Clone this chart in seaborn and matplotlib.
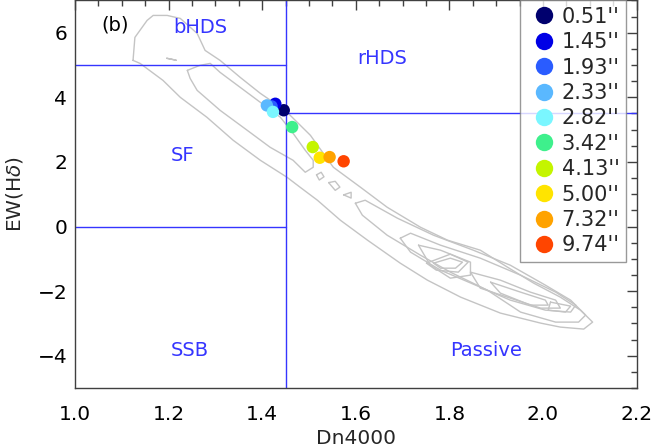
import numpy as np
import pandas as pd
import matplotlib
matplotlib.use("Agg")
import matplotlib.pyplot as plt
import seaborn as sns
from matplotlib.ticker import MultipleLocator

# ---------------- data ----------------
radius_labels = ["0.51''", "1.45''", "1.93''", "2.33''", "2.82''",
                 "3.42''", "4.13''", "5.00''", "7.32''", "9.74''"]
dn4000 = [1.446, 1.428, 1.420, 1.410, 1.423, 1.464, 1.508, 1.523, 1.544, 1.574]
ew_hd = [3.60, 3.80, 3.72, 3.75, 3.55, 3.08, 2.46, 2.13, 2.15, 2.02]
point_colors = ["#00006e", "#0000e6", "#2a5cff", "#5ab8ff", "#7af6ff",
                "#3ef08c", "#c4f500", "#ffe400", "#ffa300", "#ff4500"]

# contour outlines (Dn4000, EW)
cont_outer_x = [1.124, 1.128, 1.154, 1.167, 1.197, 1.225, 1.261, 1.278, 1.310, 1.353, 1.396,
                1.449, 1.503, 1.552, 1.610, 1.667, 1.738, 1.796, 1.866, 1.924, 1.980, 2.037,
                2.080, 2.106, 2.087, 2.037, 1.995, 1.909, 1.824, 1.753, 1.695, 1.625, 1.567,
                1.518, 1.481, 1.453, 1.396, 1.338, 1.282, 1.225, 1.188, 1.139, 1.124]
cont_outer_y = [5.144, 5.856, 6.381, 6.536, 6.536, 6.443, 5.979, 5.453, 5.144, 4.618, 4.123,
                3.598, 2.824, 1.835, 1.216, 0.597, -0.021, -0.423, -0.733, -1.258, -1.753, -2.187,
                -2.589, -2.960, -3.176, -3.114, -2.991, -2.681, -2.187, -1.661, -1.135, -0.423, 0.195,
                0.814, 1.216, 1.525, 2.051, 2.670, 3.381, 4.000, 4.525, 5.051, 5.144]

cont_a_x = [1.240, 1.267, 1.289, 1.310, 1.353, 1.396, 1.439, 1.466, 1.492, 1.509, 1.509,
            1.492, 1.466, 1.417, 1.368, 1.310, 1.261, 1.246, 1.240]
cont_a_y = [4.835, 4.990, 5.051, 4.773, 4.309, 3.845, 3.381, 2.886, 2.360, 2.051, 1.835,
            1.680, 2.051, 2.453, 2.979, 3.598, 4.216, 4.587, 4.835]

cont_dash_x = [1.196, 1.216, 1.196]
cont_dash_y = [5.21, 5.15, 5.21]

blob1_x = [1.516, 1.526, 1.532, 1.522, 1.516]
blob1_y = [1.60, 1.68, 1.54, 1.44, 1.60]
blob2_x = [1.542, 1.556, 1.566, 1.556, 1.542]
blob2_y = [1.36, 1.40, 1.22, 1.12, 1.36]
blob3_x = [1.574, 1.590, 1.590, 1.574]
blob3_y = [0.98, 1.06, 0.88, 0.98]

cont_b_x = [1.599, 1.620, 1.689, 1.766, 1.851, 1.930, 2.005, 2.059, 2.091, 2.076, 2.027,
            1.952, 1.881, 1.802, 1.738, 1.667, 1.614, 1.599]
cont_b_y = [0.721, 0.814, 0.257, -0.269, -0.733, -1.197, -1.815, -2.279, -2.743, -2.960, -2.960,
            -2.650, -1.970, -1.413, -0.887, -0.269, 0.350, 0.721]

cont_c_x = [1.695, 1.717, 1.781, 1.866, 1.952, 2.027, 2.070, 2.059, 2.005, 1.930, 1.856, 1.781, 1.717, 1.695]
cont_c_y = [-0.362, -0.207, -0.578, -0.980, -1.506, -2.032, -2.434, -2.650, -2.589, -2.279, -1.815, -1.351, -0.794, -0.362]

cont_d_x = [1.734, 1.781, 1.845, 1.845, 1.802, 1.759, 1.734]
cont_d_y = [-0.578, -0.733, -1.104, -1.506, -1.599, -1.197, -0.578]

cont_d2_x = [1.751, 1.802, 1.840, 1.819, 1.772, 1.751]
cont_d2_y = [-1.135, -0.856, -1.104, -1.413, -1.351, -1.135]

cont_d3_x = [1.766, 1.802, 1.828, 1.813, 1.781, 1.766]
cont_d3_y = [-1.135, -0.980, -1.104, -1.290, -1.290, -1.135]

cont_e_x = [1.845, 1.909, 1.973, 2.027, 2.037, 1.995, 1.930, 1.866, 1.845]
cont_e_y = [-1.413, -1.661, -2.032, -2.279, -2.527, -2.527, -2.217, -1.908, -1.413]

cont_f_x = [1.888, 1.952, 2.005, 2.011, 1.973, 1.909, 1.888]
cont_f_y = [-1.723, -2.032, -2.279, -2.434, -2.434, -2.063, -1.723]

cont_g_x = [2.016, 2.059, 2.048, 2.011, 2.016]
cont_g_y = [-2.341, -2.465, -2.650, -2.589, -2.341]

contours = [(cont_outer_x, cont_outer_y), (cont_a_x, cont_a_y), (cont_dash_x, cont_dash_y),
            (blob1_x, blob1_y), (blob2_x, blob2_y), (blob3_x, blob3_y),
            (cont_b_x, cont_b_y), (cont_c_x, cont_c_y), (cont_d_x, cont_d_y),
            (cont_d2_x, cont_d2_y), (cont_d3_x, cont_d3_y), (cont_e_x, cont_e_y),
            (cont_f_x, cont_f_y), (cont_g_x, cont_g_y)]

region_names = ["bHDS", "rHDS", "SF", "SSB", "Passive"]
region_x = [1.267, 1.657, 1.229, 1.246, 1.879]
region_y = [6.16, 5.20, 2.20, -3.83, -3.83]

# ---------------- plot ----------------
sns.set_style("white")
plt.rcParams['font.family'] = ['DejaVu Sans']
plt.rcParams['mathtext.fontset'] = 'dejavusans'

fig = plt.figure(figsize=(6.51, 4.47), dpi=100)
ax = fig.add_axes([0.1152, 0.132, 0.8627, 0.867])

for cx, cy in contours:
    ax.plot(cx, cy, color="#c4c4c4", lw=1.0, zorder=1)

blue = "#3535ff"
ax.plot([1.0, 1.45], [5, 5], color=blue, lw=1.0, zorder=2)
ax.plot([1.0, 1.45], [0, 0], color=blue, lw=1.0, zorder=2)
ax.plot([1.45, 2.2], [3.5, 3.5], color=blue, lw=1.0, zorder=2)
ax.plot([1.45, 1.45], [-5, 7], color=blue, lw=1.0, zorder=2)

df = pd.DataFrame({"Dn4000": dn4000, "EW": ew_hd, "r": radius_labels})
sns.scatterplot(data=df, x="Dn4000", y="EW", hue="r", hue_order=radius_labels,
                palette=dict(zip(radius_labels, point_colors)), s=80,
                edgecolor="none", linewidth=0, ax=ax, zorder=3)

for name, tx, ty in zip(region_names, region_x, region_y):
    ax.text(tx, ty, name, color=blue, fontsize=14, ha="center", va="center")
ax.text(1.086, 6.23, "(b)", color="black", fontsize=14, ha="center", va="center")

handles, labels = ax.get_legend_handles_labels()
leg = ax.legend(handles, labels, loc="upper right", bbox_to_anchor=(0.981, 1.0),
                markerscale=1.4, fontsize=15, frameon=True, fancybox=False,
                edgecolor="#808080", handletextpad=0.0, labelspacing=0.26,
                borderpad=0.3, handlelength=1.7, borderaxespad=0.0)
leg.get_frame().set_linewidth(1.0)
leg.set_zorder(5)

ax.set_xlim(1.0, 2.2)
ax.set_ylim(-5, 7)
ax.xaxis.set_major_locator(MultipleLocator(0.2))
ax.xaxis.set_minor_locator(MultipleLocator(0.05))
ax.yaxis.set_major_locator(MultipleLocator(2))
ax.yaxis.set_minor_locator(MultipleLocator(0.5))
ax.xaxis.set_major_formatter(matplotlib.ticker.FormatStrFormatter('%.1f'))
ax.tick_params(which="both", direction="in", top=True, right=True, colors="#404040",
               labelcolor="black", labelsize=14.5)
ax.tick_params(which="major", length=7, width=1)
ax.tick_params(which="minor", length=4, width=1)
ax.tick_params(axis="x", which="major", pad=12)
ax.tick_params(axis="y", which="major", pad=5.5)
for sp in ax.spines.values():
    sp.set_color("#404040")
    sp.set_linewidth(1.0)

ax.set_xlabel("Dn4000", fontsize=14.5, labelpad=3.5)
ax.set_ylabel("EW(H$\\delta$)", fontsize=14.5, labelpad=9)

fig.savefig("out.png", dpi=100)
